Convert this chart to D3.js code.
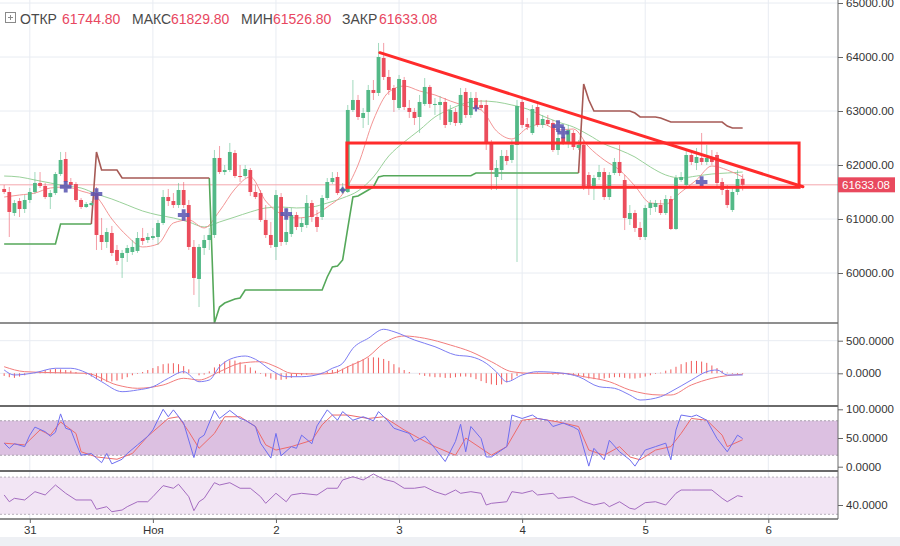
<!DOCTYPE html>
<html><head><meta charset="utf-8">
<script src="https://cdn.jsdelivr.net/npm/d3@7"></script>
<style>body{margin:0;background:#fff;}svg{display:block;}text{font-family:"Liberation Sans",Arial,sans-serif;}</style>
</head><body><svg id="c" width="900" height="546"></svg>
<script>
// ---------- DATA ----------
const startTime = Date.UTC(2021, 9, 30, 19); // first hourly candle
const candleOpen = [
61556,61500,61111,61333,61185,61352,61500,61667,61611,61407,
61481,61833,62111,61685,61648,61352,61222,61259,61481,60704,
60574,60741,60426,60278,60371,60389,60408,60648,60611,60648,
60667,60926,61407,61333,61259,61537,61259,60482,59889,60463,
60611,60704,62130,61870,61907,62222,61796,61796,61907,61500,
61481,60982,60704,60482,61407,60574,60722,61074,60852,60889,
61296,61037,61037,61389,61685,61778,61500,61500,63019,63204,
62871,62982,63389,63334,63982,63630,63426,63056,63574,63056,
62982,62889,63130,63445,63111,63111,63167,62796,62982,62778,
63352,62926,63241,63111,63111,62426,61778,61907,62167,62093,
62371,63167,62759,62593,63074,62741,62834,62778,62278,62519,
62426,62593,62315,62371,61815,61593,61778,61870,61407,61852,
62056,61722,61000,61111,60834,60667,61204,61222,61259,61111,
61370,60815,61722,61630,62185,62037,62130,62056,62148,62185,
61685,61537,61167,61500,61744.8];
const candleHigh = [
61630,61593,61352,61389,61444,61574,61870,61870,61667,61537,
61870,62241,62241,61759,61685,61389,61315,61333,61593,61019,
60834,60871,60519,60426,60519,60611,60759,60834,60741,60834,
60982,61537,61556,61481,61667,61685,61352,60611,60537,60704,
60834,62278,62352,62000,62408,62278,62000,62000,61945,61630,
61537,61259,60945,61537,61481,61204,61204,61130,61019,61444,
61352,61167,61444,61759,61870,61870,61667,63111,63574,63297,
63056,63482,63574,64260,64260,63760,63482,63667,63630,63204,
63056,63297,63611,63482,63241,63278,63241,63111,63056,63426,
63426,63352,63352,63204,63204,62463,62093,62278,62278,62463,
63204,63241,62871,63111,63148,62926,62926,62834,62685,62648,
62741,62648,62463,62463,61870,61815,62000,61945,61870,62130,
62371,61815,61259,61167,60945,61259,61352,61352,61352,61444,
61426,61815,61870,62278,62278,62315,62593,62371,62278,62241,
61759,61630,61574,61907,61829.8];
const candleLow = [
61463,60667,61056,61037,61111,61296,61463,61574,61370,61185,
61444,61796,61648,61574,61315,61185,61204,61241,60426,60426,
60463,60315,60148,59908,60204,60334,60371,60519,60556,60611,
60519,60889,61241,61204,61204,61204,60426,59593,59370,60334,
60426,60648,61833,61815,61870,61759,61685,61759,61426,61370,
60945,60648,60463,60241,60500,60519,60667,60796,60759,60834,
60945,60759,60982,61352,61648,61444,61463,61481,62982,62834,
62685,62741,63204,63278,63574,63297,62982,63019,63019,62871,
62741,62593,63093,63056,62926,62834,62685,62741,62722,62741,
62871,62871,63019,63019,62278,61537,61537,61722,62000,62037,
60204,62685,62648,62556,62704,62685,62722,62241,62185,62371,
62315,62278,62278,61537,61444,61352,61722,61352,61352,61815,
61796,60796,60889,60759,60611,60611,61074,61130,61074,61074,
60796,60796,61685,61593,62000,61907,62000,62000,62000,61611,
61444,61204,61130,61444,61526.8];
const candleClose = [
61500,61130,61296,61185,61352,61500,61667,61611,61407,61481,
61833,62093,61685,61630,61352,61222,61278,61296,60704,60574,
60759,60371,60222,60371,60463,60482,60648,60593,60667,60685,
60926,61407,61333,61259,61537,61259,60482,59908,60482,60611,
60704,62130,61870,61907,62241,61796,61778,61926,61500,61407,
60982,60704,60519,61444,60574,60759,61074,60852,60926,61296,
61037,60852,61389,61685,61759,61481,61574,63019,63204,62889,
62963,63389,63334,64000,63630,63389,63204,63593,63074,62982,
62871,63167,63445,63130,63130,63167,62741,63019,62778,63297,
62926,63241,63056,63056,62426,61907,61945,62167,62074,62371,
63093,62741,62704,63037,62741,62852,62759,62278,62500,62426,
62648,62333,62371,61593,61593,61759,61870,61407,61815,62056,
61852,61019,61111,60834,60667,61204,61296,61296,61111,61370,
60815,61759,61778,62185,62056,62148,62056,62130,62056,61667,
61537,61259,61500,61741,61633.08];

// moving averages: [candle index, price]
const maFast = [[0,61407],[3,61444],[6,61481],[9,61574],[12,61593],[15,61519],[18,61407],[21,61000],[24,60685],[27,60482],[30,60537],[33,60926],[36,60982],[39,60834],[42,61148],[45,61556],[48,61778],[51,61333],[54,61093],[57,61019],[60,61056],[63,61222],[66,61463],[69,62000],[72,62834],[75,63352],[78,63463],[81,63371],[84,63297],[87,63185],[90,63093],[93,63019],[96,62630],[99,62482],[102,62685],[105,62759],[108,62648],[111,62667],[114,62333],[117,62093],[120,61907],[123,61611],[126,61296],[129,61278],[132,61500],[135,61722],[138,61982],[141,61907],[144,61778]];
const maSlow = [[0,61796],[3,61778],[6,61722],[9,61667],[12,61611],[15,61574],[18,61463],[21,61370],[24,61259],[27,61148],[30,61074],[33,61019],[36,60945],[39,60852],[42,60945],[45,61037],[48,61130],[51,61204],[54,61222],[57,61204],[60,61222],[63,61296],[66,61389],[69,61519],[72,61778],[75,62167],[78,62426],[81,62648],[84,62889],[87,63037],[90,63148],[93,63185],[96,63167],[99,63111],[102,63037],[105,62908],[108,62796],[111,62704],[114,62556],[117,62389],[120,62278],[123,62148],[126,61963],[129,61815],[132,61759],[135,61796],[138,61833],[141,61852],[144,61870]];
// trailing stop lines: [candle index, price], null = break
const stopUp = [[0,60537],[10,60537],[11,60908],[17,60908],[18,null],[40,61759],[41,59074],[42,59370],[43,59444],[44,59481],[45,59518],[46,59537],[47,59685],[62,59685],[63,59926],[64,60111],[65,60130],[66,60241],[67,60833],[68,61407],[69,61426],[70,61481],[71,61537],[72,61593],[73,61778],[74,61800],[91,61800],[92,61852],[112,61852]];
const stopDown = [[17,60908],[18,62241],[19,61907],[22,61907],[23,61759],[40,61759],[41,null],[112,61852],[113,63500],[114,63204],[115,63000],[122,63000],[123,62963],[124,62889],[127,62889],[128,62870],[129,62834],[130,62796],[140,62796],[141,62722],[142,62685],[144,62685]];
// markers: [candle index, price, large]
const markers = [[12,61598,1],[18,61463,1],[35,61074,1],[55,61093,1],[66,61537,0],[92,63050,0],[108,62720,1],[109,62600,1],[136,61685,1]];

// MACD
const macdLine = [[0,51],[2,-26],[6,9],[10,77],[13,77],[16,9],[19,-129],[23,-282],[26,-256],[29,-206],[32,-77],[35,25],[38,-129],[40,-103],[42,101],[44,215],[47,265],[49,215],[52,51],[55,-52],[58,-52],[62,0],[64,77],[66,153],[68,383],[71,537],[74,675],[76,638],[80,511],[84,408],[88,281],[91,255],[94,153],[96,20],[98,-129],[101,-26],[104,25],[109,0],[112,-52],[116,-206],[119,-230],[122,-333],[124,-410],[128,-359],[130,-282],[134,-103],[137,25],[139,51],[141,-26],[144,-26]];
const macdSignal = [[0,101],[4,25],[10,9],[16,0],[22,-179],[26,-230],[31,-179],[35,-77],[38,-103],[42,25],[46,153],[50,178],[53,101],[56,0],[61,-11],[64,0],[67,101],[71,255],[74,460],[78,572],[82,537],[87,434],[91,331],[95,178],[99,25],[103,0],[109,0],[113,-52],[118,-129],[122,-256],[128,-333],[130,-333],[134,-179],[138,-77],[144,-15]];
const macdHist = [
-40,-60,-70,-50,-30,-10,10,30,50,60,
70,60,50,40,20,0,-20,-50,-90,-120,
-130,-125,-110,-90,-60,-30,-10,20,50,80,
110,140,150,155,140,110,60,0,-30,-20,
30,90,140,180,200,195,170,130,90,40,
-10,-50,-80,-100,-100,-90,-70,-50,-30,-20,
-10,0,10,30,50,60,70,110,150,190,
220,240,245,240,220,190,140,90,50,20,
0,-20,-40,-50,-60,-60,-70,-70,-60,-50,
-50,-60,-90,-120,-150,-170,-180,-170,-140,-100,
-40,-10,0,10,10,0,-10,-20,-20,-20,
-20,-30,-40,-60,-80,-90,-90,-80,-70,-60,
-60,-70,-80,-80,-70,-50,-30,-10,10,40,
60,100,140,170,190,190,180,160,120,80,
40,10,-10,-15,-10];
// Stochastic
const stochK = [[0,41],[1,32],[2,40],[4,35],[5,55],[6,69],[8,61],[9,53],[10,60],[11,92],[12,67],[13,64],[14,41],[15,20],[17,23],[19,7],[20,23],[21,5],[23,13],[24,23],[26,38],[28,53],[29,64],[31,100],[32,87],[33,99],[35,76],[37,16],[38,49],[39,55],[41,98],[42,84],[44,98],[46,84],[47,81],[49,70],[50,41],[52,15],[53,58],[54,19],[56,35],[57,32],[58,55],[60,40],[61,71],[63,99],[65,81],[66,96],[68,81],[70,87],[72,80],[73,96],[75,78],[76,67],[79,58],[80,44],[82,53],[84,32],[86,9],[88,44],[89,74],[90,26],[91,70],[93,49],[94,17],[95,17],[98,35],[99,90],[101,84],[103,90],[104,84],[106,81],[107,70],[109,76],[111,69],[112,64],[114,1],[115,32],[117,12],[118,46],[120,26],[122,12],[123,1],[125,29],[127,35],[129,41],[130,12],[131,64],[132,90],[134,87],[135,90],[137,81],[139,49],[141,26],[143,55],[144,49]];
const stochD = [[0,41],[4,38],[7,64],[9,55],[11,78],[14,58],[15,26],[18,17],[22,13],[25,23],[28,53],[32,84],[34,87],[36,61],[38,32],[41,58],[43,87],[46,87],[49,70],[51,38],[53,29],[56,35],[60,46],[62,73],[64,90],[67,90],[71,84],[74,87],[78,64],[81,49],[84,35],[88,20],[90,50],[93,32],[95,20],[98,35],[101,81],[104,84],[108,78],[112,70],[114,29],[117,20],[120,35],[122,17],[124,12],[127,29],[130,35],[132,58],[134,84],[137,81],[140,55],[141,35],[144,47]];
// RSI
const rsi = [[0,50.8],[1,43.5],[2,47.2],[4,45.4],[6,54.3],[8,50.8],[10,61.5],[12,52.6],[14,45.4],[17,45.4],[18,35.4],[20,38.2],[21,32.8],[23,34.6],[24,38.2],[26,43.5],[28,43.5],[29,48.9],[31,60.8],[33,58],[34,62.3],[36,48.9],[37,33.9],[38,43.5],[39,47.2],[41,64],[42,61.5],[44,64],[46,58],[48,58],[50,48.9],[51,41.8],[53,52.6],[55,43.5],[56,50.8],[58,52.6],[61,50.8],[63,58],[65,58],[66,66.9],[68,70.4],[70,66.9],[72,73.3],[74,67.6],[76,65],[78,58],[80,58],[82,59.7],[84,54.3],[86,50.8],[88,56.1],[89,52.6],[91,54.3],[93,52.6],[94,40],[95,41.8],[98,43.5],[99,54.3],[101,52.6],[103,55.4],[104,50.8],[107,52.6],[108,47.2],[111,48.9],[113,43.5],[115,40],[117,42.5],[118,38.2],[120,43.5],[122,36.5],[123,35.4],[125,42.5],[127,43.5],[129,40],[131,52.6],[132,56.1],[134,56.1],[138,56.1],[140,47.2],[141,43.5],[143,50],[144,48.9]];

// axes / labels
const priceTicks = [60000,61000,62000,63000,64000,65000];
const macdTicks = [0,500];
const stochTicks = [0,50,100];
const rsiTicks = [40];
const dayTicks = [Date.UTC(2021,9,31),Date.UTC(2021,10,1),Date.UTC(2021,10,2),Date.UTC(2021,10,3),Date.UTC(2021,10,4),Date.UTC(2021,10,5),Date.UTC(2021,10,6)];
const dayLabels = ["31","Ноя","2","3","4","5","6"];
const headerLabels = ["ОТКР","МАКС","МИН","ЗАКР"];
const headerValues = ["61744.80","61829.80","61526.80","61633.08"];
const lastPrice = 61633.08;
// drawn annotations (time, price)
const trendLine = [[Date.UTC(2021,10,2,20,15),64080],[Date.UTC(2021,10,6,6,45),61598]];
const zoneBox = {t0:Date.UTC(2021,10,2,13,50), t1:Date.UTC(2021,10,6,6,0), pTop:62407, pBot:61587};

// ---------- LAYOUT ----------
const svg = d3.select("#c");
const R = 838;
const P = {main:[0,323], macd:[323,406], stoch:[406,471], rsi:[471,519]};
const HOUR = 3600e3;
const tOf = i => new Date(startTime + i*HOUR);
const x = d3.scaleUtc().domain([new Date(dayTicks[0]), new Date(dayTicks[6])]).range([29.8, 768.3]);
const yM = d3.scaleLinear().domain([60000,65000]).range([273,3]);
const yMacd = d3.scaleLinear().domain([0,500]).range([373.3,340.7]);
const yS = d3.scaleLinear().domain([0,100]).range([466.7,409.3]);
const yR = d3.scaleLinear().domain([30,70]).range([514.3,477.1]);

svg.append("rect").attr("width",900).attr("height",546).attr("fill","#fff");
svg.append("rect").attr("x",0).attr("y",537).attr("width",900).attr("height",9).attr("fill","#eef0f4");

const defs = svg.append("defs");
Object.entries(P).forEach(([k,[a,b]])=>{
  defs.append("clipPath").attr("id","clip-"+k).append("rect").attr("x",0).attr("y",a).attr("width",R).attr("height",b-a);
});
const layer = k => svg.append("g").attr("clip-path",`url(#clip-${k})`);

// grid
const grid = svg.append("g").attr("stroke","#e8ecf2").attr("stroke-width",1);
dayTicks.forEach(d=>grid.append("line").attr("x1",x(d)).attr("x2",x(d)).attr("y1",0).attr("y2",519));
priceTicks.forEach(p=>grid.append("line").attr("x1",0).attr("x2",R).attr("y1",yM(p)).attr("y2",yM(p)));
macdTicks.forEach(v=>grid.append("line").attr("x1",0).attr("x2",R).attr("y1",yMacd(v)).attr("y2",yMacd(v)));
rsiTicks.forEach(v=>grid.append("line").attr("x1",0).attr("x2",R).attr("y1",yR(v)).attr("y2",yR(v)));

// ---------- MAIN PANEL ----------
const gm = layer("main");
const lineXY = (ys) => d3.line().defined(d=>d[1]!==null).x(d=>x(tOf(d[0]))).y(d=>ys(d[1]));
gm.append("line").attr("x1",0).attr("x2",R).attr("y1",yM(lastPrice)).attr("y2",yM(lastPrice)).attr("stroke","#f4a6ad").attr("stroke-width",1);
gm.append("path").attr("d",lineXY(yM).curve(d3.curveMonotoneX)(maSlow)).attr("fill","none").attr("stroke","#9ad19a").attr("stroke-width",1);
gm.append("path").attr("d",lineXY(yM).curve(d3.curveMonotoneX)(maFast)).attr("fill","none").attr("stroke","#f39595").attr("stroke-width",1);
gm.append("path").attr("d",lineXY(yM)(stopUp)).attr("fill","none").attr("stroke","#55a85a").attr("stroke-width",1.6);
gm.append("path").attr("d",lineXY(yM)(stopDown)).attr("fill","none").attr("stroke","#a65a55").attr("stroke-width",1.6);

const candles = candleOpen.map((o,i)=>({t:tOf(i),o,h:candleHigh[i],l:candleLow[i],c:candleClose[i]}));
const UP="#53b987", DN="#eb4d5c";
const cg = gm.append("g");
cg.selectAll("line.w").data(candles).join("line").attr("class","w")
  .attr("x1",d=>x(d.t)).attr("x2",d=>x(d.t)).attr("y1",d=>yM(d.h)).attr("y2",d=>yM(d.l))
  .attr("stroke",d=>d.c>=d.o?UP:DN).attr("stroke-opacity",0.55).attr("stroke-width",1);
cg.selectAll("rect").data(candles).join("rect")
  .attr("x",d=>x(d.t)-1.9).attr("width",3.8)
  .attr("y",d=>yM(Math.max(d.o,d.c))).attr("height",d=>Math.max(1,Math.abs(yM(d.o)-yM(d.c))))
  .attr("fill",d=>d.c>=d.o?UP:DN);

gm.selectAll("path.mk").data(markers).join("path").attr("class","mk")
  .attr("transform",d=>`translate(${x(tOf(d[0]))},${yM(d[1])})`)
  .attr("d",d=>d3.symbol(d3.symbolCross).size(d[2]?75:22)())
  .attr("fill","#5753b0").attr("fill-opacity",0.85);

// annotations
const ann = svg.append("g").attr("stroke","#ff2b2b").attr("stroke-width",3).attr("fill","none");
ann.append("rect").attr("x",x(zoneBox.t0)).attr("y",yM(zoneBox.pTop))
  .attr("width",x(zoneBox.t1)-x(zoneBox.t0)).attr("height",yM(zoneBox.pBot)-yM(zoneBox.pTop));
ann.append("line").attr("x1",x(trendLine[0][0])).attr("y1",yM(trendLine[0][1]))
  .attr("x2",x(trendLine[1][0])).attr("y2",yM(trendLine[1][1])).attr("stroke-linecap","round");

// ---------- MACD ----------
const gmc = layer("macd");
gmc.selectAll("line").data(macdHist).join("line")
  .attr("x1",(d,i)=>x(tOf(i))).attr("x2",(d,i)=>x(tOf(i)))
  .attr("y1",yMacd(0)).attr("y2",d=>yMacd(d)).attr("stroke","#f15b5b").attr("stroke-width",1);
gmc.append("path").attr("d",lineXY(yMacd).curve(d3.curveMonotoneX)(macdSignal)).attr("fill","none").attr("stroke","#f27c7c").attr("stroke-width",1);
gmc.append("path").attr("d",lineXY(yMacd).curve(d3.curveMonotoneX)(macdLine)).attr("fill","none").attr("stroke","#7d7df3").attr("stroke-width",1);

// ---------- STOCH ----------
const gs = layer("stoch");
gs.append("rect").attr("x",0).attr("width",R).attr("y",yS(80)).attr("height",yS(20)-yS(80)).attr("fill","#dcc0e1");
[80,20].forEach(v=>gs.append("line").attr("x1",0).attr("x2",R).attr("y1",yS(v)).attr("y2",yS(v)).attr("stroke","#a8a0ab").attr("stroke-dasharray","2,2"));
gs.append("path").attr("d",lineXY(yS)(stochD)).attr("fill","none").attr("stroke","#ee6a6a").attr("stroke-width",1);
gs.append("path").attr("d",lineXY(yS)(stochK)).attr("fill","none").attr("stroke","#6e6ef0").attr("stroke-width",1);

// ---------- RSI ----------
const gr = layer("rsi");
gr.append("rect").attr("x",0).attr("width",R).attr("y",yR(70)).attr("height",yR(30)-yR(70)).attr("fill","#f2e5f4");
[70,30].forEach(v=>gr.append("line").attr("x1",0).attr("x2",R).attr("y1",yR(v)).attr("y2",yR(v)).attr("stroke","#b8b0bb").attr("stroke-dasharray","2,2"));
gr.append("path").attr("d",lineXY(yR)(rsi)).attr("fill","none").attr("stroke","#a46cc0").attr("stroke-width",1);

// ---------- FRAME / AXES ----------
const fr = svg.append("g").attr("stroke","#6a6a6a");
fr.append("line").attr("x1",R).attr("x2",R).attr("y1",0).attr("y2",519).attr("stroke-width",1);
[[323,1.5],[406,2],[471,2],[519,1.5]].forEach(([y,w])=>fr.append("line").attr("x1",0).attr("x2",R).attr("y1",y).attr("y2",y).attr("stroke-width",w));

function rightAxis(scale, ticks, fmt){
  const g = svg.append("g").attr("transform",`translate(${R},0)`)
    .call(d3.axisRight(scale).tickValues(ticks).tickSize(5).tickPadding(3).tickFormat(d3.format(fmt)));
  g.select(".domain").remove();
  g.selectAll("line").attr("stroke","#666");
  g.selectAll("text").attr("fill","#333").style("font-size","11.5px").style("font-family","'Liberation Sans',Arial,sans-serif");
}
rightAxis(yM, priceTicks, ".2f");
rightAxis(yMacd, macdTicks, ".4f");
rightAxis(yS, stochTicks, ".4f");
rightAxis(yR, rsiTicks, ".4f");

const xa = svg.append("g").attr("transform","translate(0,519)")
  .call(d3.axisBottom(x).tickValues(dayTicks.map(d=>new Date(d))).tickSize(4).tickPadding(3).tickFormat((d,i)=>dayLabels[i]));
xa.select(".domain").remove();
xa.selectAll("line").attr("stroke","#666");
xa.selectAll("text").attr("fill","#333").style("font-size","11.5px").style("font-family","'Liberation Sans',Arial,sans-serif");

// last price label
const ly = yM(lastPrice);
svg.append("rect").attr("x",R).attr("y",ly-7.5).attr("width",57).attr("height",15).attr("fill","#e9495e");
svg.append("text").attr("x",R+4).attr("y",ly+4).attr("fill","#fff").style("font-size","11.5px").text(lastPrice.toFixed(2));

// header
const hd = svg.append("g");
hd.append("rect").attr("x",5.5).attr("y",12.5).attr("width",10).attr("height",10).attr("fill","none").attr("stroke","#8a8a8a");
hd.append("path").attr("d","M8,17.5H13M10.5,15V20").attr("stroke","#8a8a8a");
const labX = [20,132,241,342], valX = [62,171,273,379];
headerLabels.forEach((t,i)=>{
  hd.append("text").attr("x",labX[i]).attr("y",24).attr("fill","#4a4a4a").style("font-size","14px").text(t);
  hd.append("text").attr("x",valX[i]).attr("y",24).attr("fill","#e8475f").style("font-size","14px").text(headerValues[i]);
});
</script></body></html>
